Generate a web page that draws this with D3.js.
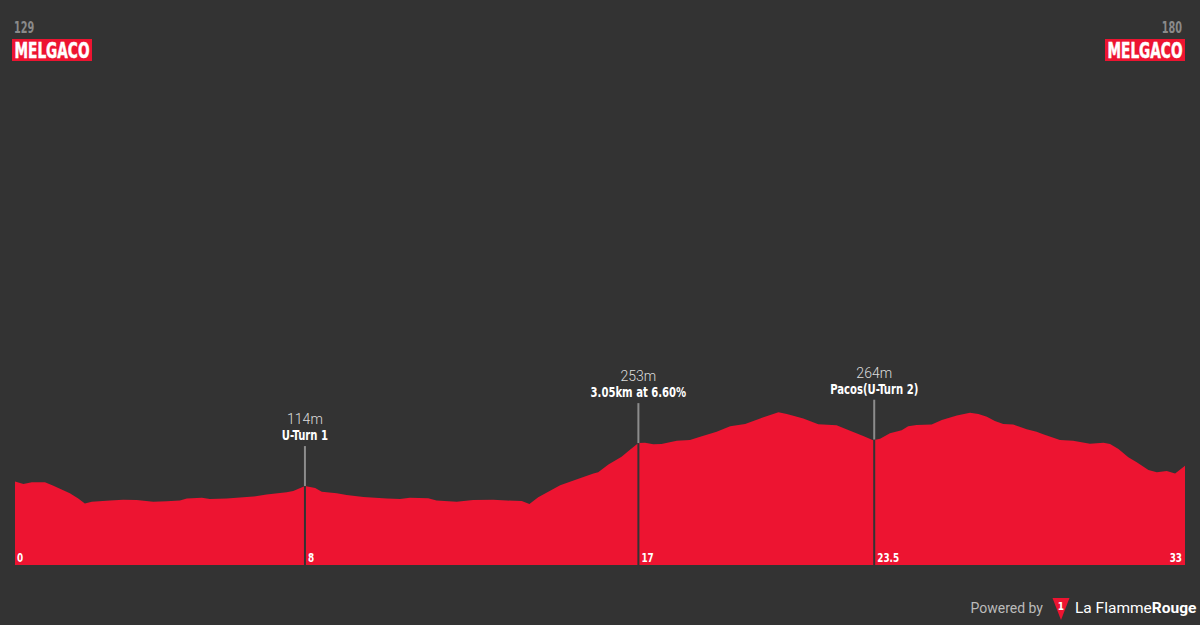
<!DOCTYPE html>
<html><head><meta charset="utf-8">
<script src="https://cdn.jsdelivr.net/npm/d3@7"></script>
<style>
html,body{margin:0;padding:0;background:#333333;}
svg{display:block;}
</style></head>
<body>
<svg id="chart" width="1200" height="625"></svg>
<script>
// ---- data ----
const distanceKm = [0,0.23,0.46,0.82,1.05,1.50,1.73,1.91,2.10,2.60,2.96,3.33,3.78,4.15,4.51,4.70,5.11,5.33,5.79,6.52,6.88,7.43,7.61,7.93,8.21,8.39,8.80,9.07,9.53,10.17,10.53,10.80,11.30,11.53,12.08,12.53,13.08,13.45,13.86,14.07,14.31,14.91,15.45,15.82,15.95,16.23,16.59,16.77,17.05,17.23,17.46,17.68,18.10,18.46,18.74,19.19,19.56,19.97,20.38,20.88,21.11,21.56,21.97,22.47,22.84,23.20,23.47,23.66,23.93,24.25,24.43,24.66,25.07,25.35,25.76,26.12,26.35,26.58,26.80,27.03,27.30,27.67,27.94,28.12,28.58,28.94,29.40,29.77,29.95,30.18,30.45,30.68,31.00,31.23,31.50,31.73,32.00];
const elevationM = [129,121,126,126,115,91,74,58,63,67,70,69,63,65,67,74,76,72,74,80,87,94,98,114,108,96,91,85,79,74,72,76,75,67,63,69,70,67,66,56,78,117,139,155,159,184,209,227,253,254,249,250,261,263,274,290,308,315,333,353,347,333,314,311,293,276,262,267,285,295,308,312,313,328,342,351,347,338,325,315,313,298,290,282,263,261,251,254,250,234,207,191,166,159,163,155,180];
const totalKm = 32;

const markerKm = [7.93, 17.05, 23.5];
const markerElevation = [114, 253, 264];
const markerTitles = ["U-Turn 1", "3.05km at 6.60%", "Pacos(U-Turn 2)"];

const kmTickValues = [0, 7.93, 17.05, 23.5, 32];
const kmTickLabels = ["0", "8", "17", "23.5", "33"];

const startName = "MELGACO", finishName = "MELGACO";
const startNumber = "129", finishNumber = "180";

// ---- drawing ----
const RED = "#ED1431";
const BG = "#333333";
const COND = "'DejaVu Sans Condensed','DejaVu Sans',sans-serif";
const svg = d3.select("#chart");
svg.append("rect").attr("width",1200).attr("height",625).attr("fill",BG);

const x = d3.scaleLinear().domain([0, totalKm]).range([15, 1185]);
const y = d3.scaleLinear().domain([0, 300]).range([521.3, 428.6]);
const baseY = 565;

const pts = distanceKm.map((d,i)=>[d, elevationM[i]]);
const area = d3.area().x(d=>x(d[0])).y0(baseY).y1(d=>y(d[1]));
svg.append("path").datum(pts).attr("d", area).attr("fill", RED);

function squeeze(sel, factor){
  sel.each(function(){
    const w = this.getComputedTextLength();
    d3.select(this).attr("textLength", w*factor).attr("lengthAdjust","spacingAndGlyphs");
  });
}

// markers
markerKm.forEach((km,i)=>{
  const px = x(km), py = y(markerElevation[i]);
  svg.append("line").attr("x1",px).attr("x2",px).attr("y1",py-40).attr("y2",py)
    .attr("stroke","#8c8c8c").attr("stroke-width",2);
  svg.append("line").attr("x1",px).attr("x2",px).attr("y1",py).attr("y2",baseY)
    .attr("stroke",BG).attr("stroke-width",2);
  svg.append("text").attr("x",px).attr("y",py-62).attr("text-anchor","middle")
    .attr("font-family","Roboto, sans-serif").attr("font-weight",300).attr("font-size",14)
    .attr("fill","#dddddd").text(markerElevation[i]+"m");
  const t = svg.append("text").attr("x",px).attr("y",py-46).attr("text-anchor","middle")
    .attr("font-family",COND).attr("font-weight","bold").attr("font-size",14)
    .attr("fill","#ffffff").text(markerTitles[i]);
  squeeze(t, 0.8);
});

// km tick labels
kmTickLabels.forEach((lab,i)=>{
  const last = i === kmTickLabels.length-1;
  const px = x(kmTickValues[i]) + (i===0 ? 2 : last ? -3 : 3);
  const t = svg.append("text").attr("x",px).attr("y",562)
    .attr("text-anchor", last ? "end" : "start")
    .attr("font-family",COND).attr("font-weight","bold").attr("font-size",12)
    .attr("fill","#ffffff").text(lab);
  squeeze(t, 0.82);
});

// start / finish labels
function placeLabel(num, name, anchorX, right){
  const n = svg.append("text").attr("x",anchorX + (right?-4:2)).attr("y",33)
    .attr("text-anchor", right?"end":"start")
    .attr("font-family",COND).attr("font-weight","bold").attr("font-size",15)
    .attr("fill","#8a8a8a").text(num);
  squeeze(n, 0.72);
  const bx = right ? anchorX-81 : anchorX;
  svg.append("rect").attr("x",bx).attr("y",39).attr("width",80).attr("height",22).attr("fill",RED);
  const g = svg.append("g").attr("transform",`translate(${bx+40},58.3)`);
  const t = g.append("text").attr("x",0).attr("y",0).attr("text-anchor","middle")
    .attr("font-family",COND).attr("font-weight","bold").attr("font-size",21.5)
    .attr("fill","#ffffff").attr("stroke","#ffffff").attr("stroke-width",0.5).text(name);
  const w = t.node().getComputedTextLength();
  t.attr("transform",`scale(${75/w},1)`);
}
placeLabel(startNumber, startName, 12, false);
placeLabel(finishNumber, finishName, 1186, true);

// footer
svg.append("text").attr("x",1043).attr("y",613).attr("text-anchor","end")
  .attr("font-family","Roboto, sans-serif").attr("font-size",14).attr("fill","#bbbbbb").text("Powered by");
svg.append("path").attr("d","M1052.5,598 L1069.5,598 L1061,620 Z").attr("fill",RED);
svg.append("text").attr("x",1061).attr("y",609.5).attr("text-anchor","middle")
  .attr("font-family",COND).attr("font-weight","bold").attr("font-size",10).attr("fill","#ffffff").text("1");
const brand = svg.append("text").attr("x",1075).attr("y",613)
  .attr("font-family","Roboto, sans-serif").attr("font-size",15.5).attr("fill","#ffffff");
brand.append("tspan").text("La Flamme");
brand.append("tspan").attr("font-weight","bold").text("Rouge");
</script>
</body></html>
